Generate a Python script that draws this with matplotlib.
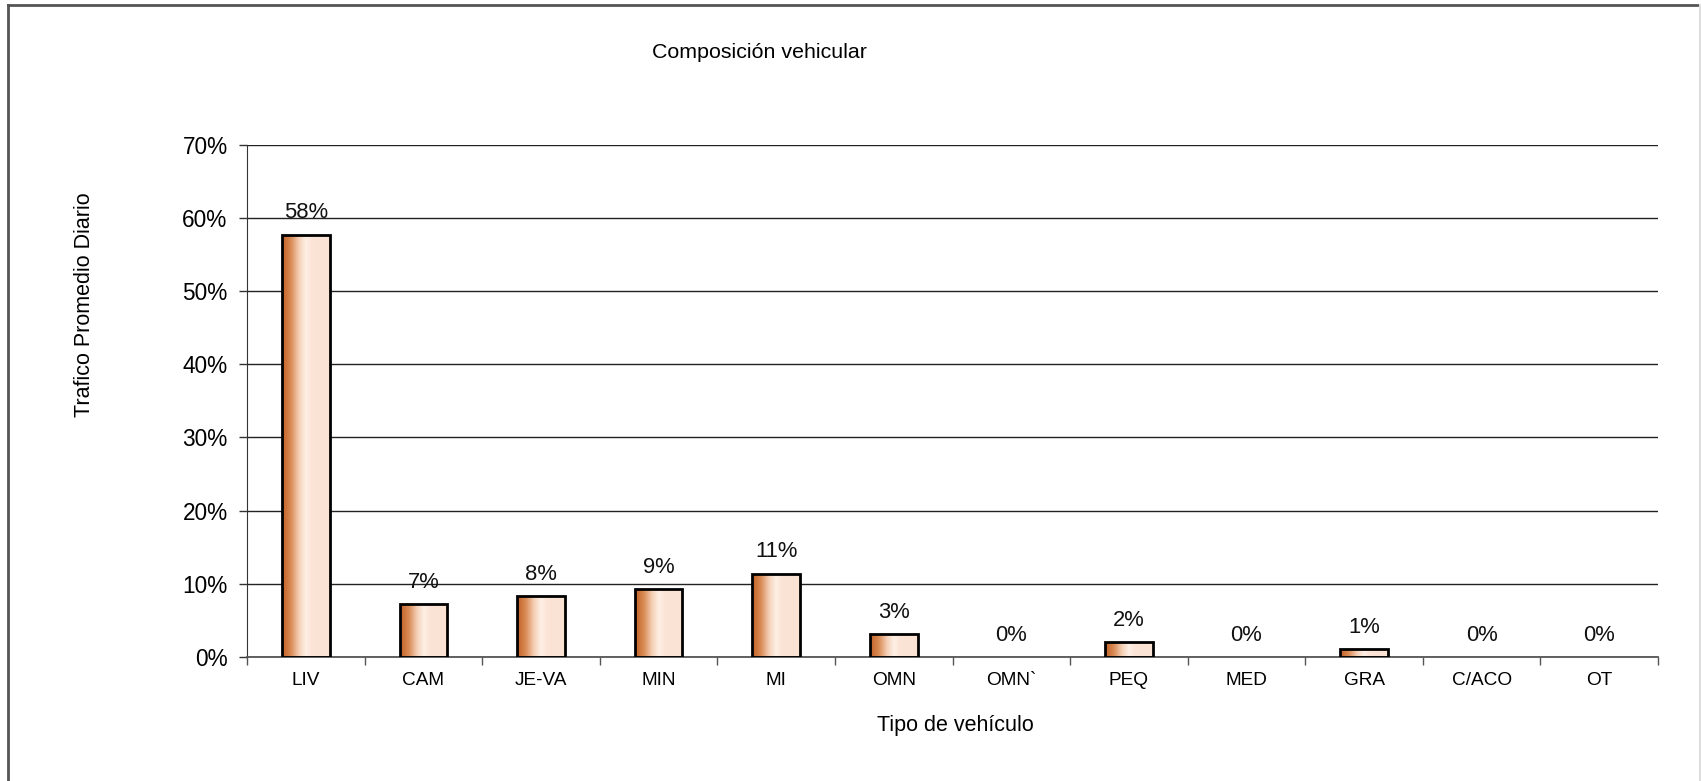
import matplotlib
matplotlib.use("Agg")
import matplotlib.pyplot as plt
import numpy as np
from matplotlib.lines import Line2D
from matplotlib.colors import LinearSegmentedColormap
from matplotlib.ticker import FixedLocator, PercentFormatter

plt.rcParams['font.family'] = ['Liberation Sans', 'DejaVu Sans']

categories = ["LIV", "CAM", "JE-VA", "MIN", "MI", "OMN", "OMN`", "PEQ", "MED", "GRA", "C/ACO", "OT"]
values = [57.7, 7.25, 8.3, 9.3, 11.4, 3.1, 0.0, 2.07, 0.0, 1.04, 0.0, 0.0]
labels = ["58%", "7%", "8%", "9%", "11%", "3%", "0%", "2%", "0%", "1%", "0%", "0%"]
yticks = [0, 10, 20, 30, 40, 50, 60, 70]

fig = plt.figure(figsize=(17.01, 7.81), dpi=100)
ax = fig.add_axes([247/1701, 1-657/781, 1411/1701, (657-144.5)/781])

cmap = LinearSegmentedColormap.from_list("grad", [
    (0.00, (0.76, 0.38, 0.15)),
    (0.18, (0.85, 0.54, 0.33)),
    (0.36, (0.96, 0.82, 0.72)),
    (0.50, (0.995, 0.94, 0.90)),
    (0.62, (0.985, 0.895, 0.84)),
    (1.00, (0.98, 0.89, 0.83)),
])
grad = np.linspace(0, 1, 256).reshape(1, -1)

x = np.arange(len(categories))
width = 0.405
bars = ax.bar(x, values, width=width, facecolor='none', edgecolor='black', linewidth=2, zorder=3)
for b, v in zip(bars, values):
    if v <= 0:
        b.set_visible(False)
        continue
    x0 = b.get_x()
    im = ax.imshow(grad, cmap=cmap, aspect='auto', extent=[x0, x0 + b.get_width(), 0, v],
                   zorder=2, interpolation='bilinear')
    im.set_clip_path(b)

for xi, v, lab in zip(x, values, labels):
    ax.annotate(lab, (xi, v), xytext=(0, 8), textcoords='offset points',
                ha='center', va='bottom', fontsize=15.8, color='#111111')

ax.set_xlim(-0.5, len(categories) - 0.5)
ax.set_ylim(0, 70)
ax.yaxis.set_major_locator(FixedLocator(yticks))
ax.yaxis.set_major_formatter(PercentFormatter(decimals=0))
ax.grid(axis='y', color='#222222', linewidth=1.0, zorder=0)
ax.set_axisbelow(True)

ax.set_xticks(x)
ax.set_xticklabels(categories)
ax.set_xticks(np.arange(-0.5, len(categories)), minor=True)
ax.tick_params(axis='x', which='major', length=0, pad=11, labelsize=13.7)
ax.tick_params(axis='x', which='minor', length=6, width=1, color='#555555')
ax.tick_params(axis='y', which='major', length=6, width=1, color='#333333', pad=8, labelsize=16.3)

for s in ['top', 'right']:
    ax.spines[s].set_visible(False)
ax.spines['left'].set_color('#333333')
ax.spines['bottom'].set_color('#555555')
ax.spines['bottom'].set_linewidth(1.3)

fig.text(759/1701, 1-52/781, "Composición vehicular", ha='center', va='center', fontsize=15.4)
fig.text(84/1701, 1-305/781, "Trafico Promedio Diario", ha='center', va='center', rotation=90, fontsize=15.5)
fig.text(955/1701, 1-725/781, "Tipo de vehículo", ha='center', va='center', fontsize=15.5)

# outer frame
fig.add_artist(Line2D([8/1701, 8/1701], [0, 1-5/781], transform=fig.transFigure, color='#555555', lw=2))
fig.add_artist(Line2D([8/1701, 1700/1701], [1-5/781, 1-5/781], transform=fig.transFigure, color='#555555', lw=2))
fig.add_artist(Line2D([1700/1701, 1700/1701], [0, 1-5/781], transform=fig.transFigure, color='#dddddd', lw=1.5))

fig.savefig("out.png", dpi=100)
